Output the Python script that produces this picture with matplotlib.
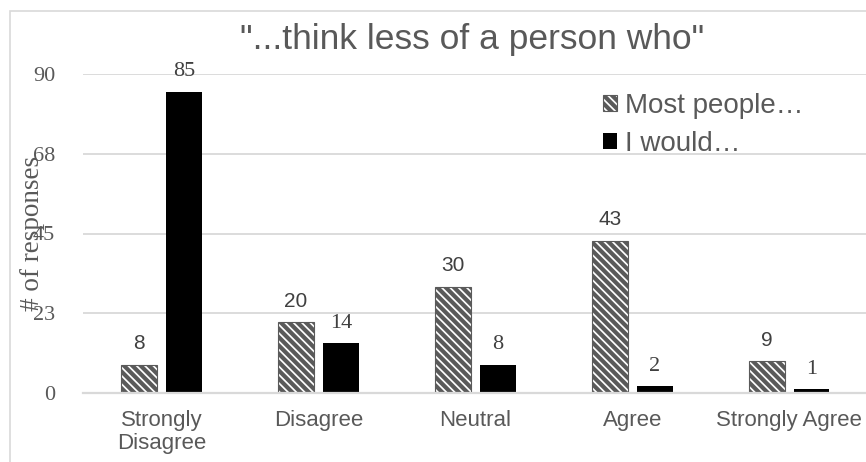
import matplotlib
matplotlib.use("Agg")
import matplotlib.pyplot as plt
from matplotlib.patches import Rectangle
import numpy as np

categories = ["Strongly\nDisagree", "Disagree", "Neutral", "Agree", "Strongly Agree"]
most_people = [8, 20, 30, 43, 9]
i_would = [85, 14, 8, 2, 1]
series_names = ["Most people\u2026", "I would\u2026"]
yticks = [0, 22.5, 45, 67.5, 90]
ytick_labels = ["0", "23", "45", "68", "90"]
title = "\"...think less of a person who\""
ylabel = "# of responses"

plt.rcParams['hatch.linewidth'] = 3.0
plt.rcParams['hatch.color'] = '#4a4a4a'

W, H = 866, 462
fig = plt.figure(figsize=(W/100, H/100), dpi=100)

# outer chart border
fig.patches.append(Rectangle((10/W, -0.1), 1.2, (H-11)/H + 0.1, transform=fig.transFigure,
                             fill=False, edgecolor='#d9d9d9', linewidth=1.2))

ax = fig.add_axes([83/W, 1-393/H, 784.5/W, (393-74)/H])
x = np.arange(len(categories))
bw = 0.229
off = 0.143
ax.bar(x - off, most_people, bw, color='white', edgecolor='#5a5a5a', linewidth=0.8,
       hatch='\\\\\\\\', label=series_names[0], zorder=3)
ax.bar(x + off, i_would, bw, color='black', edgecolor='black', linewidth=0,
       label=series_names[1], zorder=3)

for xi, v in zip(x - off, most_people):
    ax.annotate(str(v), (xi, v), xytext=(0, 11), textcoords='offset points',
                ha='center', va='baseline', fontsize=15, family='Liberation Sans', color='#404040')
for xi, v in zip(x + off, i_would):
    ax.annotate(str(v), (xi, v), xytext=(0, 11), textcoords='offset points',
                ha='center', va='baseline', fontsize=16, family='Liberation Serif', color='#404040')

ax.set_xlim(-0.5, len(categories) - 0.5)
ax.set_ylim(0, 90)
ax.set_yticks(yticks)
ax.set_yticklabels(ytick_labels, family='Liberation Serif', fontsize=16, color='#595959')
ax.set_xticks(x)
ax.set_xticklabels(categories, family='Liberation Sans', fontsize=16, color='#595959',
                   linespacing=1.15)
ax.tick_params(axis='both', length=0)
ax.tick_params(axis='y', pad=20)
ax.tick_params(axis='x', pad=12)
ax.grid(axis='y', color='#d9d9d9', linewidth=1.3, zorder=0)
for s in ['top', 'right', 'left']:
    ax.spines[s].set_visible(False)
ax.spines['bottom'].set_color('#d9d9d9')
ax.spines['bottom'].set_linewidth(1.6)
ax.spines['bottom'].set_zorder(4)

ax.set_ylabel(ylabel, family='Liberation Serif', fontsize=19.5, color='#595959')
ax.yaxis.set_label_coords(-0.049, 0.5)

fig.text(472/W, 1-40/H, title, ha='center', va='center', fontsize=25.5,
         family='Liberation Sans', color='#595959')

leg = ax.legend(loc='upper left', bbox_to_anchor=(603/W, 1-93/H), bbox_transform=fig.transFigure,
                frameon=False, prop={'family': 'Liberation Sans', 'size': 20},
                handlelength=0.5, handleheight=0.5, handletextpad=0.3, labelspacing=0.42,
                borderpad=0, borderaxespad=0)
for t in leg.get_texts():
    t.set_color('#595959')

fig.savefig("out.png", dpi=100)
